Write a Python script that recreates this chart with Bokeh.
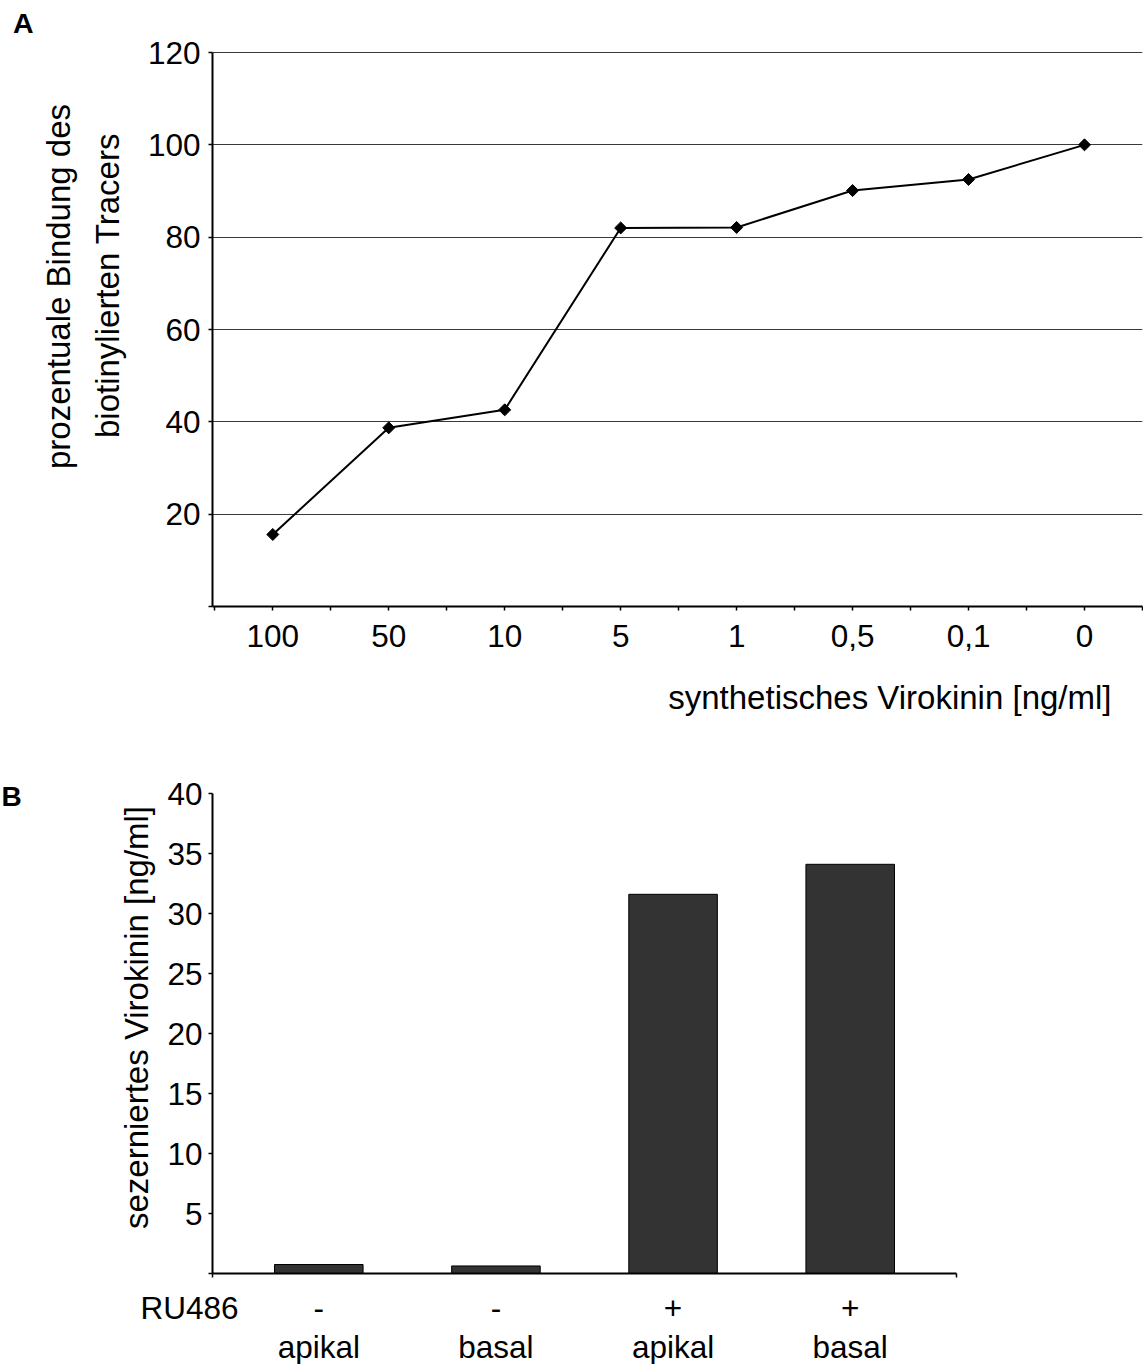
from math import pi
from bokeh.plotting import figure
from bokeh.models import FixedTicker, Label, Range1d
from bokeh.layouts import column, row
from bokeh.core.properties import value
from bokeh.embed import file_html
from bokeh.resources import INLINE

FONT = "Liberation Sans"

# ---------------- Panel A data ----------------
conc_labels = ["100", "50", "10", "5", "1", "0,5", "0,1", "0"]
binding_pct = [15.6, 38.7, 42.6, 82.0, 82.1, 90.1, 92.5, 100.0]
a_yticks = [0, 20, 40, 60, 80, 100, 120]
a_ylabel_1 = "prozentuale Bindung des"
a_ylabel_2 = "biotinylierten Tracers"
a_xlabel = "synthetisches Virokinin [ng/ml]"

# ---------------- Panel B data ----------------
ru486 = ["-", "-", "+", "+"]
side = ["apikal", "basal", "apikal", "basal"]
secreted = [0.75, 0.63, 31.6, 34.1]
b_yticks = [0, 5, 10, 15, 20, 25, 30, 35, 40]
b_ylabel = "sezerniertes Virokinin [ng/ml]"

TICK_SIZE = "31.5px"
TITLE_SIZE = "33px"


def style_axes(p):
    for ax in (p.xaxis, p.yaxis):
        ax.axis_line_color = "black"
        ax.axis_line_width = 2
        ax.major_tick_line_color = "black"
        ax.major_tick_line_width = 1.5
        ax.minor_tick_line_color = "black"
        ax.minor_tick_line_width = 1.5
        ax.major_tick_in = 0
        ax.major_tick_out = 4
        ax.minor_tick_in = 0
        ax.minor_tick_out = 4
        ax.major_label_text_font = FONT
        ax.major_label_text_font_size = TICK_SIZE
        ax.major_label_text_color = "black"


def text_canvas(w, h, x_range=None, y_range=None, top=0, bottom=0):
    p = figure(width=w, height=h, title=None,
               x_range=x_range if x_range is not None else Range1d(0, w),
               y_range=y_range if y_range is not None else Range1d(0, h),
               output_backend="svg", toolbar_location=None,
               x_axis_location=None, y_axis_location=None,
               min_border=0, min_border_left=0, min_border_right=0,
               min_border_top=top, min_border_bottom=bottom)
    p.outline_line_color = None
    p.background_fill_color = "white"
    p.border_fill_color = "white"
    p.grid.visible = False
    return p


def txt(x, y, text, size, align="center", angle=0, bold=False):
    return Label(x=x, y=y, text=text, angle=angle, text_align=align, text_baseline="middle",
                 text_font=FONT, text_font_size=size, text_color="black",
                 text_font_style="bold" if bold else "normal")


# ================= Panel A =================
A_TOP, A_BOT = 2, 60          # borders of panel A (frame spans page y 2..606)
HA = 666
A_PX = 554 / 120              # pixels per percent
ya_range = Range1d(0, (606 - A_TOP) / A_PX)
xa = list(range(len(conc_labels)))
pa = figure(width=1013, height=HA, title=None, x_range=Range1d(-0.52, 7.5), y_range=ya_range,
            output_backend="svg", toolbar_location=None,
            min_border_left=82, min_border_right=1, min_border_top=A_TOP, min_border_bottom=A_BOT)
pa.outline_line_color = None
pa.background_fill_color = "white"
pa.border_fill_color = "white"
style_axes(pa)
pa.xgrid.visible = False
pa.ygrid.ticker = FixedTicker(ticks=a_yticks)
pa.ygrid.grid_line_color = "#3a3a3a"
pa.ygrid.grid_line_width = 1

pa.xaxis.ticker = FixedTicker(ticks=xa, minor_ticks=[i - 0.5 for i in range(len(conc_labels) + 1)])
pa.xaxis.major_label_overrides = {i: lab for i, lab in enumerate(conc_labels)}
pa.xaxis.major_label_standoff = 14
pa.yaxis.ticker = FixedTicker(ticks=a_yticks)
pa.yaxis.major_label_overrides = {0: ""}
pa.yaxis.major_label_standoff = 8
pa.yaxis.bounds = (0, 120)

pa.line(xa, binding_pct, line_color="black", line_width=2)
pa.scatter(xa, binding_pct, marker="square", size=8.5, angle=pi / 4,
           fill_color="black", line_color="black")

# left strip of panel A (shares panel A's y scale): panel letter and two-line y title
leftA = text_canvas(130, HA, y_range=ya_range, top=A_TOP, bottom=A_BOT)
leftA.add_layout(txt(12.5, (606 - 22) / A_PX, "A", "28.5px", align="left", bold=True))
leftA.add_layout(txt(58, (606 - 286) / A_PX, a_ylabel_1, TITLE_SIZE, angle=pi / 2))
leftA.add_layout(txt(107, (606 - 285) / A_PX, a_ylabel_2, TITLE_SIZE, angle=pi / 2))

# strip below panel A: x axis title (right aligned)
HBA = 94
bottomA = text_canvas(1143, HBA)
bottomA.add_layout(txt(1111, HBA - 30.6, a_xlabel, TITLE_SIZE, align="right"))

# ================= Panel B =================
B_TOP, B_BOT = 16, 12         # row B starts at page y 760; frame spans 776..1273
HB = 525
B_PX = 12                     # pixels per ng/ml
yb_range = Range1d(0, (1273 - 760 - B_TOP) / B_PX)
xb = list(range(len(secreted)))
B_START, B_END = -0.6, 3.6
pb = figure(width=801, height=HB, title=None, x_range=Range1d(B_START, B_END), y_range=yb_range,
            output_backend="svg", toolbar_location=None,
            min_border_left=52, min_border_right=5, min_border_top=B_TOP, min_border_bottom=B_BOT)
pb.outline_line_color = None
pb.background_fill_color = "white"
pb.border_fill_color = "white"
style_axes(pb)
pb.xgrid.visible = False
pb.ygrid.visible = False

pb.vbar(x=xb, top=secreted, bottom=0, width=0.5, fill_color="#333333",
        line_color="black", line_width=1)

pb.xaxis.ticker = FixedTicker(ticks=[], minor_ticks=[B_START + 0.0001, B_END - 0.0001])
pb.yaxis.ticker = FixedTicker(ticks=b_yticks)
pb.yaxis.major_label_overrides = {0: ""}
pb.yaxis.major_label_standoff = 6
pb.yaxis.bounds = (0, 40)

leftB = text_canvas(160, HB, y_range=yb_range, top=B_TOP, bottom=B_BOT)
leftB.add_layout(txt(1, (1273 - 796.3) / B_PX, "B", "28px", align="left", bold=True))
leftB.add_layout(txt(136, (1273 - 1017) / B_PX, b_ylabel, TITLE_SIZE, angle=pi / 2))

# strip below panel B (page y 1285..1364): category label rows, sharing panel B's x scale
HBB = 79
unit_b = 744 / (B_END - B_START)           # pixels per category in panel B
bx0 = B_START - 212 / unit_b
bottomB = text_canvas(1143, HBB, x_range=Range1d(bx0, bx0 + 1143 / unit_b))
bottomB.text(x=xb, y=[HBB - 22.1] * len(xb), text=ru486, text_align="center",
             text_baseline="middle", text_font=value(FONT), text_font_size=TICK_SIZE,
             text_color="black")
bottomB.text(x=xb, y=[HBB - 61.1] * len(xb), text=side, text_align="center",
             text_baseline="middle", text_font=value(FONT), text_font_size=TICK_SIZE,
             text_color="black")
bottomB.add_layout(txt(bx0 + 238 / unit_b, HBB - 22.1, "RU486", TICK_SIZE, align="right"))

layout = column(row(leftA, pa), bottomA, row(leftB, pb), bottomB)
open("out.html", "w").write(file_html(layout, INLINE))
